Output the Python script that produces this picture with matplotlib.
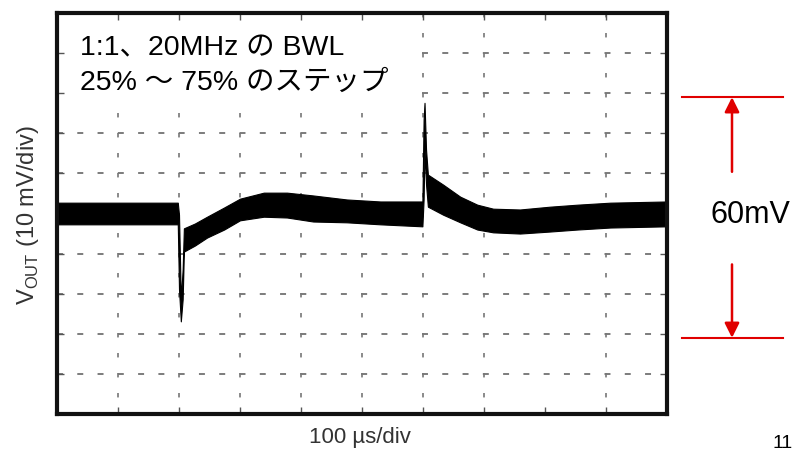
import matplotlib
matplotlib.use('Agg')
import matplotlib.pyplot as plt
import matplotlib.transforms as mtransforms
from matplotlib.patches import Rectangle

plt.rcParams['font.family'] = ['Liberation Sans', 'Noto Sans CJK JP']
plt.rcParams['mathtext.fontset'] = 'custom'
plt.rcParams['mathtext.rm'] = 'Liberation Sans'

# scope trace, drawn as the band between its upper and lower edge
t_us = [0, 70, 198, 200, 203, 206, 208, 226, 246, 274, 300, 339, 377, 420, 475, 530,
        599, 601, 602.5, 605, 608, 633, 661, 689, 715, 759, 808, 853, 907, 1000]
upper_mv = [2.7, 2.7, 2.7, -0.3, -21.4, -13.9, -3.7, -2.5, -0.8, 1.5, 3.7, 5.2, 5.2, 4.5, 3.5, 3.0,
            3.0, 23.4, 27.6, 15.9, 9.7, 7.2, 4.2, 2.2, 1.2, 1.0, 1.7, 2.2, 2.7, 3.0]
lower_mv = [-2.7, -2.7, -2.7, -18.9, -26.9, -21.4, -9.5, -8.0, -6.0, -4.0, -1.7, -0.8, -1.0, -2.0, -2.2, -2.7,
            -3.2, 3.5, 15.9, 7.2, 1.7, -0.3, -2.2, -4.0, -4.7, -5.0, -4.5, -4.0, -3.5, -3.2]

# screen divisions: 100 us/div, 10 mV/div
x_div = [0, 100, 200, 300, 400, 500, 600, 700, 800, 900, 1000]
y_div = [-50, -40, -30, -20, -10, 0, 10, 20, 30, 40, 50]
x_grid = [100, 200, 300, 400, 500, 600, 700, 900]
y_grid = [-40, -30, -20, -10, 10, 20, 30, 40]

span_mv = 60
span_top = 29
span_bottom = span_top - span_mv

W, H = 800, 454
fig = plt.figure(figsize=(W / 100, H / 100), dpi=100)
ax = fig.add_axes([57 / W, (H - 414) / H, 610 / W, 401 / H])
ax.set_xlim(0, 1000)
ax.set_ylim(-50, 50)

lw = 1.2
for v in y_grid:
    ax.plot([0, 1000], [v, v], color='#666666', lw=lw,
            linestyle=(0, (4.3 / lw, 10.3 / lw)), zorder=1)
for t in x_grid:
    ax.plot([t, t], [50, -50], color='#777777', lw=lw,
            linestyle=(0, (3.2 / lw, 11.2 / lw)), zorder=1)

# blank area under the notes
ax.add_patch(Rectangle((0, 0.771), 0.587, 0.229, transform=ax.transAxes,
                       facecolor='white', edgecolor='none', zorder=1.5))

ax.fill_between(t_us, lower_mv, upper_mv, color='black', lw=0.8,
                edgecolor='black', zorder=2)

ax.set_xticks(x_div)
ax.set_yticks(y_div)
ax.tick_params(direction='in', length=5, width=1, color='#555555',
               top=True, right=True, labelbottom=False, labelleft=False)
for s in ax.spines.values():
    s.set_linewidth(3)
    s.set_color('#111111')

ax.text(23 / 610, 1 - 42 / 401, '1:1、20MHz の BWL', transform=ax.transAxes,
        fontsize=20.5, va='baseline', ha='left', zorder=3)
ax.text(23 / 610, 1 - 77 / 401, '25% ～ 75% のステップ', transform=ax.transAxes,
        fontsize=20.5, va='baseline', ha='left', zorder=3)

fig.text(360 / W, (H - 437) / H, '100 µs/div', ha='center', va='center',
         fontsize=16, color='#333333')
fig.text(28 / W, (H - 215) / H, 'V$_{\\mathrm{OUT}}$ (10 mV/div)', rotation=90,
         ha='center', va='center', fontsize=17, color='#333333')
fig.text(773 / W, 2 / H, '11', ha='left', va='bottom', fontsize=14)

# 60 mV span marker on the right
blend = mtransforms.blended_transform_factory(fig.transFigure, ax.transData)
for v in (span_top, span_bottom):
    ax.plot([682 / W, 783 / W], [v, v], color='#e00000', lw=1.5,
            transform=blend, clip_on=False)
arrow = dict(arrowstyle='-|>', color='#e00000', lw=1.8, mutation_scale=22,
             shrinkA=0, shrinkB=0)
ax.annotate('', xy=(732 / W, span_top), xycoords=blend,
            xytext=(732 / W, 10.4), textcoords=blend, arrowprops=arrow)
ax.annotate('', xy=(732 / W, span_bottom), xycoords=blend,
            xytext=(732 / W, -12.7), textcoords=blend, arrowprops=arrow)
fig.text(750 / W, (H - 215) / H, f'{span_mv}mV', ha='center', va='center',
         fontsize=22)

fig.savefig('out.png', dpi=100)
